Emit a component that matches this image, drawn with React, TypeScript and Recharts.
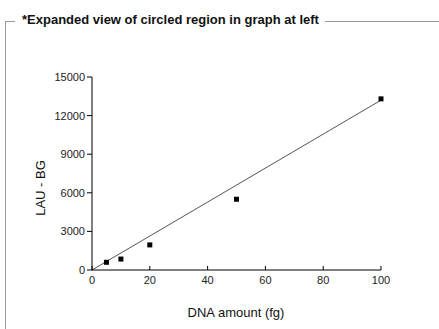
import React from "react";
import { ComposedChart, Scatter, Line, XAxis, YAxis } from "recharts";

const dnaAmounts = [5, 10, 20, 50, 100];
const lauValues = [600, 850, 1950, 5500, 13300];
const fitX = [0, 100];
const fitY = [0, 13200];
const xTicks = [0, 20, 40, 60, 80, 100];
const yTicks = [0, 3000, 6000, 9000, 12000, 15000];

const points = dnaAmounts.map((x, i) => ({ x, y: lauValues[i] }));
const fitLine = fitX.map((x, i) => ({ x, y: fitY[i] }));

const FONT = "'Liberation Sans', Arial, sans-serif";

const XTick = (props: any) => {
  const { x, y, payload } = props;
  return (
    <g>
      <line x1={x} x2={x} y1={y - 4} y2={y} stroke="#000" />
      <text x={x} y={y + 14} textAnchor="middle" fontSize={11} fill="#222" fontFamily={FONT}>
        {payload.value}
      </text>
    </g>
  );
};

const Square = (props: any) => {
  const { cx, cy } = props;
  return <rect x={cx - 2.5} y={cy - 2.5} width={5} height={5} fill="#000" />;
};

export default function App() {
  return (
    <div style={{ position: "absolute", left: 0, top: 0, width: 439, height: 329, background: "#fff", fontFamily: FONT }}>
      <div style={{ position: "absolute", left: 5, top: 21, width: 10, borderTop: "1px solid #999" }} />
      <div style={{ position: "absolute", left: 325, top: 21, width: 114, borderTop: "1px solid #999" }} />
      <div style={{ position: "absolute", left: 5, top: 21, height: 308, borderLeft: "1px solid #999" }} />
      <div style={{ position: "absolute", left: 22, top: 12, fontSize: 13, fontWeight: "bold", color: "#111", whiteSpace: "nowrap" }}>
        *Expanded view of circled region in graph at left
      </div>
      <div style={{ position: "absolute", left: 0, top: 0 }}>
        <ComposedChart width={439} height={329} margin={{ top: 77, right: 58, bottom: 29, left: 0 }}>
          <XAxis
            type="number"
            dataKey="x"
            domain={[0, 100]}
            ticks={xTicks}
            tickLine={false}
            tickSize={0}
            tickMargin={0}
            tick={<XTick />}
            stroke="#000"
            height={30}
          />
          <YAxis
            type="number"
            dataKey="y"
            domain={[0, 15000]}
            ticks={yTicks}
            width={92}
            tickSize={5}
            tickMargin={2}
            stroke="#000"
            tick={{ fill: "#222", fontSize: 11, fontFamily: FONT }}
          />
          <Line data={fitLine} dataKey="y" stroke="#555" strokeWidth={1} dot={false} isAnimationActive={false} />
          <Scatter data={points} dataKey="y" shape={<Square />} isAnimationActive={false} />
        </ComposedChart>
      </div>
      <div style={{ position: "absolute", left: 40, top: 188, transform: "translate(-50%, -50%) rotate(-90deg)", fontSize: 13, color: "#111", whiteSpace: "nowrap" }}>
        LAU - BG
      </div>
      <div style={{ position: "absolute", left: 236, top: 312, transform: "translate(-50%, -50%)", fontSize: 13, color: "#111", whiteSpace: "nowrap" }}>
        DNA amount (fg)
      </div>
    </div>
  );
}
